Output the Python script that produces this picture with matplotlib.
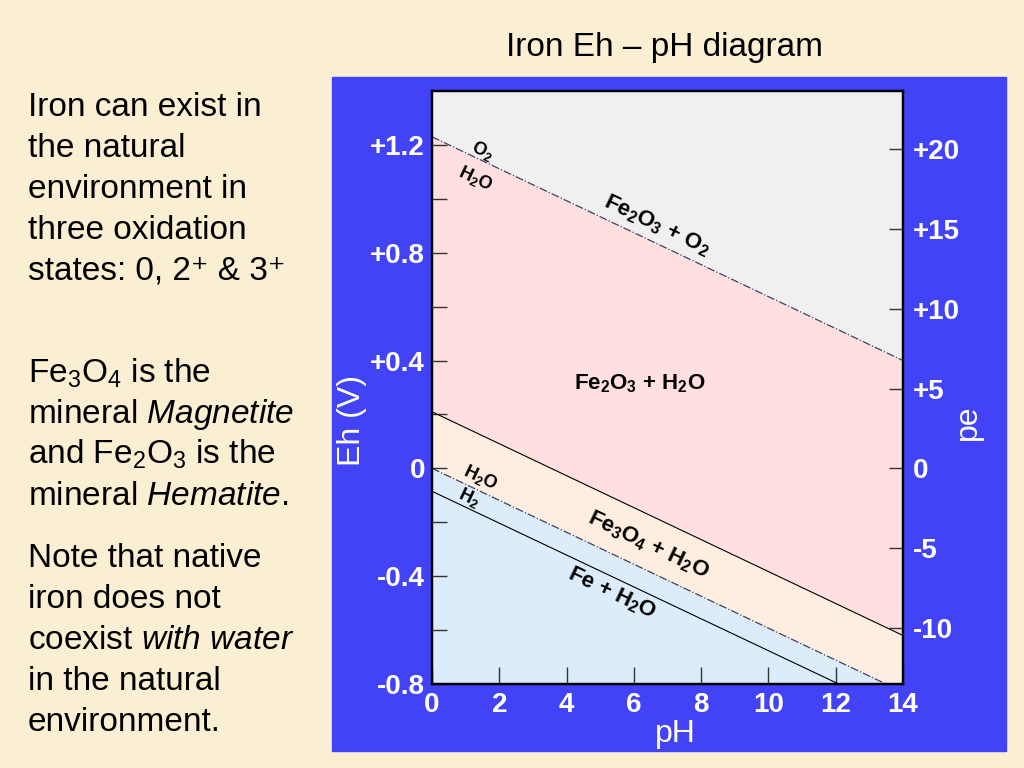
#!/usr/bin/env python3

import numpy as np
import matplotlib
matplotlib.use("Agg")
import matplotlib.pyplot as plt
from matplotlib.patches import Rectangle
from matplotlib.font_manager import FontProperties

plt.rcParams['font.family'] = ['Liberation Sans', 'DejaVu Sans']
plt.rcParams['mathtext.fontset'] = 'custom'
plt.rcParams['mathtext.rm'] = 'Liberation Sans'
plt.rcParams['mathtext.it'] = 'Liberation Sans:italic'
plt.rcParams['mathtext.bf'] = 'Liberation Sans:bold'

# boundary lines, Eh (V) read at pH 0 and pH 14
ph_ends = [0, 14]
o2_h2o = [1.23, 0.40]
fe2o3_fe3o4 = [0.21, -0.62]
h2o_h2 = [0.0, -0.83]
fe3o4_fe = [-0.085, -0.913]

eh_ticks = [1.2, 0.8, 0.4, 0.0, -0.4, -0.8]
eh_labels = ['+1.2', '+0.8', '+0.4', '0', '-0.4', '-0.8']
pe_ticks = [20, 15, 10, 5, 0, -5, -10]
pe_labels = ['+20', '+15', '+10', '+5', '0', '-5', '-10']
ph_ticks = [0, 2, 4, 6, 8, 10, 12, 14]

title = 'Iron Eh \u2013 pH diagram'
notes = [
    'Iron can exist in', 'the natural', 'environment in', 'three oxidation',
    'states: 0, 2\u207a & 3\u207a',
    'Fe$_3$O$_4$ is the', 'mineral $\\mathit{Magnetite}$',
    'and Fe$_2$O$_3$ is the', 'mineral $\\mathit{Hematite}$.',
    'Note that native', 'iron does not', 'coexist $\\mathit{with\\ water}$',
    'in the natural', 'environment.',
]
note_baselines = [116, 157, 198, 239, 280, 383, 423, 464, 505,
                  567, 608, 649, 690, 731]

W, H = 1024, 768
BG = '#faefd2'
PANEL = '#4242f6'

fig = plt.figure(figsize=(W / 100, H / 100), dpi=100, facecolor=BG)

def fx(px):
    return px / W

def fy(py):
    return 1 - py / H

fig.patches.append(Rectangle((fx(332), fy(751)), fx(1006) - fx(332), fy(77) - fy(751),
                             transform=fig.transFigure, color=PANEL, zorder=-10))

fig.text(fx(665), fy(56), title, fontsize=24, ha='center', va='baseline')
for line, yb in zip(notes, note_baselines):
    fig.text(fx(28), fy(yb), line, fontsize=24, ha='left', va='baseline')

ax = fig.add_axes([fx(432), fy(684), fx(903) - fx(432), fy(91) - fy(684)])
ax.set_xlim(0, 14)
ax.set_ylim(-0.8, 1.4)

x = np.array(ph_ends)
ax.fill_between(x, o2_h2o, 1.4, color='#f0f0f0', lw=0)
ax.fill_between(x, fe2o3_fe3o4, o2_h2o, color='#ffdfe0', lw=0)
ax.fill_between(x, h2o_h2, fe2o3_fe3o4, color='#fdeedf', lw=0)
ax.fill_between(x, -0.8, h2o_h2, color='#ddecfb', lw=0)

ax.plot(x, o2_h2o, color='#404060', lw=0.9, ls='-.')
ax.plot(x, h2o_h2, color='#404060', lw=0.9, ls='-.')
ax.plot(x, fe2o3_fe3o4, color='black', lw=0.8)
ax.plot(x, fe3o4_fe, color='black', lw=0.8)

ax.set_xticks(ph_ticks)
ax.set_xticklabels([str(t) for t in ph_ticks])
ax.set_yticks(eh_ticks)
ax.set_yticklabels(eh_labels)
ax.set_yticks(np.arange(-0.6, 1.4, 0.4), minor=True)
tickfont = dict(family=['Liberation Sans'], weight='bold', size=20)
for lab in ax.get_xticklabels() + ax.get_yticklabels():
    lab.set_fontproperties(FontProperties(**tickfont))
    lab.set_color('white')
ax.tick_params(axis='y', which='both', direction='in', length=11, width=1,
               color='#333333', pad=5, right=False)
ax.tick_params(axis='x', direction='in', length=12, width=1, color='#333333', pad=6)
for s in ax.spines.values():
    s.set_linewidth(1.6)

ax2 = ax.twinx()
ax2.set_ylim(-0.8 / 0.05916, 1.4 / 0.05916)
ax2.set_yticks(pe_ticks)
ax2.set_yticklabels(pe_labels)
for lab in ax2.get_yticklabels():
    lab.set_fontproperties(FontProperties(**tickfont))
    lab.set_color('white')
ax2.tick_params(axis='y', direction='in', length=10, width=1, color='#333333', pad=7)
for s in ax2.spines.values():
    s.set_linewidth(1.6)

fig.text(fx(352), fy(420), 'Eh (V)', fontsize=23, color='white', rotation=90,
         ha='center', va='center')
fig.text(fx(675), fy(734), 'pH', fontsize=23, color='white', ha='center', va='center')
fig.text(fx(968), fy(422), 'pe', fontsize=23, color='white', rotation=90,
         ha='center', va='center')

# angle of the water lines on screen
p0 = ax.transData.transform((0, o2_h2o[0]))
p1 = ax.transData.transform((14, o2_h2o[1]))
ang = np.degrees(np.arctan2(p1[1] - p0[1], p1[0] - p0[0]))

def label(px, py, s, size, rot=ang):
    fig.text(fx(px), fy(py), s, fontsize=size, fontweight='bold', rotation=rot,
             ha='center', va='center', rotation_mode='anchor')

label(483, 151, '$\\mathbf{O_2}$', 13)
label(475, 179, '$\\mathbf{H_2O}$', 13)
label(657, 225, '$\\mathbf{Fe_2O_3}$ + $\\mathbf{O_2}$', 16)
label(640, 384, '$\\mathbf{Fe_2O_3}$ + $\\mathbf{H_2O}$', 16, rot=0)
label(480, 478, '$\\mathbf{H_2O}$', 13)
label(469, 498, '$\\mathbf{H_2}$', 13)
label(648, 545, '$\\mathbf{Fe_3O_4}$ + $\\mathbf{H_2O}$', 16)
label(612, 593, 'Fe + $\\mathbf{H_2O}$', 16)

fig.savefig('out.png', dpi=100, facecolor=BG)
